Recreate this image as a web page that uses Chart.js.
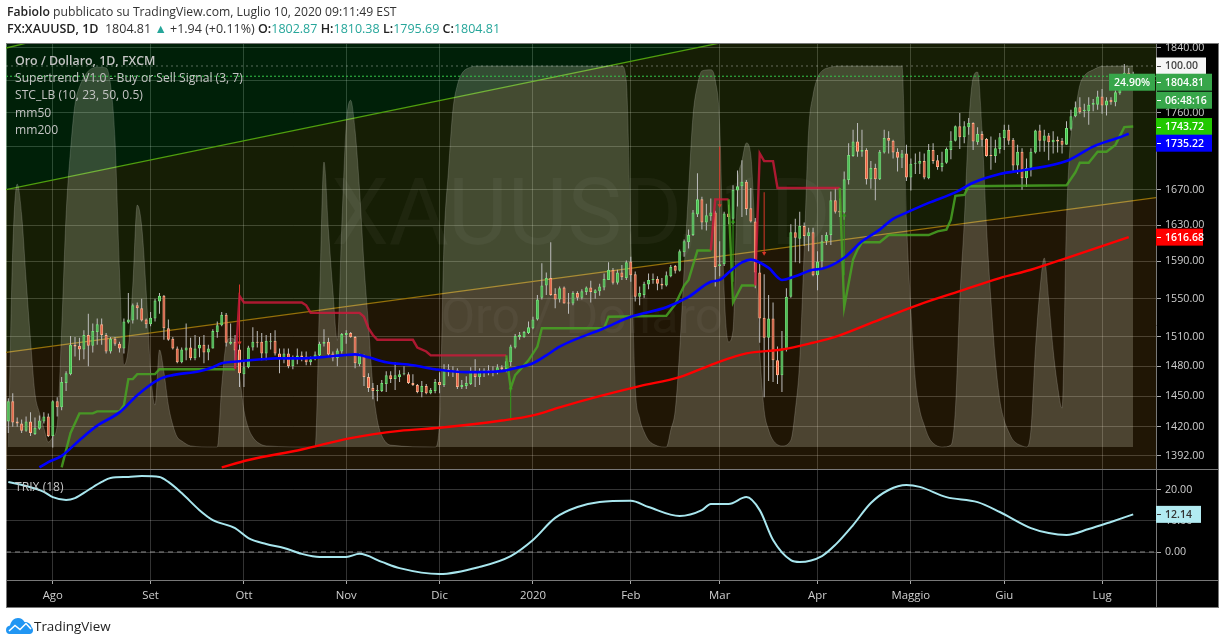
<!DOCTYPE html>
<html><head><meta charset="utf-8">
<script src="https://cdn.jsdelivr.net/npm/chart.js@4"></script>
<style>
html,body{margin:0;padding:0;background:#fff;width:1225px;height:644px;overflow:hidden;font-family:"Open Sans","Noto Sans",sans-serif}
#frame{position:absolute;left:6px;top:43px;width:1211px;height:563px;background:#000;border:1px solid #787878}
canvas{position:absolute;left:0;top:0}
.t{position:absolute;white-space:nowrap}
#h1{left:7px;top:3px;font-size:12.2px;color:#333}
#h2{left:7px;top:20px;font-size:12.5px;color:#333}
#h1 b,#h2 b{font-weight:600;color:#222}
#h2 i{font-style:normal;color:#26a69a}
.leg{left:15px;font-size:12.1px;color:#c4c4c4}
#tv{left:34px;top:617px;font-size:13.4px;color:#222}
</style></head><body>
<div id="frame"></div>
<canvas id="c" width="1225" height="644"></canvas>
<div class="t" id="h1"><b>Fabiolo</b> pubblicato su TradingView.com, Luglio 10, 2020 09:11:49 EST</div>
<div class="t" id="h2"><b>FX:XAUUSD, 1D</b>&nbsp; 1804.81 <i>▲</i> +1.94 (+0.11%) <b>O:</b><i>1802.87</i> <b>H:</b><i>1810.38</i> <b>L:</b><i>1795.69</i> <b>C:</b><i>1804.81</i></div>
<div class="t leg" style="top:52px;font-weight:600;font-size:12.4px">Oro / Dollaro, 1D, FXCM</div>
<div class="t leg" style="top:69px">Supertrend V1.0 - Buy or Sell Signal (3, 7)</div>
<div class="t leg" style="top:86px">STC_LB (10, 23, 50, 0.5)</div>
<div class="t leg" style="top:104px">mm50</div>
<div class="t leg" style="top:121px">mm200</div>
<div class="t leg" style="top:478px">TRIX (18)</div>
<svg style="position:absolute;left:6px;top:618px" width="27" height="16" viewBox="0 0 27 16"><path d="M0 12C0 9 2 8 4 7.500C5 3 8 0 12 0C15 0 17 1.500 18.500 4C22 3.500 25 6 25.500 9C26.500 10 27 11 27 12.500C27 14.500 25.500 16 23.500 16H3.500C1.500 16 0 14.500 0 12Z" fill="#2196f3"/><path d="M3 13L9 7.500L14 11.500L20 5.500L25 11" fill="none" stroke="#fff" stroke-width="1.500"/></svg>
<div class="t" id="tv">TradingView</div>
<script>
const opens=[1425,1445,1425,1423,1416,1425,1413,1418,1425,1430,1411,1445,1439,1463,1472,1502,1501,1497,1512,1501,1515,1523,1512,1495,1508,1503,1498,1525,1527,1543,1540,1528,1523,1529,1547,1553,1519,1508,1498,1484,1496,1499,1488,1498,1502,1494,1498,1515,1522,1533,1503,1505,1497,1472,1479,1499,1505,1505,1493,1505,1506,1493,1487,1493,1480,1489,
1491,1490,1484,1487,1491,1503,1505,1493,1488,1495,1512,1514,1510,1482,1491,1469,1458,1455,1455,1462,1471,1467,1469,1472,1472,1463,1461,1454,1460,1453,1455,1464,1461,1477,1474,1476,1459,1460,1462,1475,1469,1474,1476,1476,1474,1479,1477,1484,1499,1510,1510,1514,1519,1528,1551,1564,1572,1555,1549,
1562,1546,1545,1556,1551,1557,1562,1556,1558,1562,1570,1581,1567,1578,1572,1590,1576,1552,1554,1565,1570,1571,1566,1564,1574,1585,1580,1600,1611,1619,1642,1659,1633,1640,1644,1585,1587,1643,1637,1669,1674,1679,1649,1634,1578,1530,1509,1529,1486,1471,1497,1552,1622,1615,1629,1618,1622,1575,1590,1612,1619,1658,1646,1644,1681,1709,1726,1714,1716,1682,1695,1682,1713,1730,1727,1714,1707,1712,1684,1700,1700,1703,1683,1716,1704,1696,1701,1716,1727,1744,1731,1743,1748,1725,1735,1729,1710,1709,1717,1730,1740,1728,1698,1714,1683,1695,1713,1739,1727,1733,1725,1728,1727,1722,1741,1756,1767,1762,1762,1770,1770,1780,1769,1776,1773,1784,1788,1809,1802.87];
const highs=[1448,1453,1429,1427,1430,1434,1429,1431,1434,1433,1446,1449,1469,1475,1511,1510,1509,1517,1534,1524,1529,1529,1514,1510,1510,1505,1529,1556,1545,1546,1550,1529,1536,1550,1556,1554,1528,1510,1500,1499,1524,1509,1512,1510,1512,1502,1518,1526,1536,1535,1524,1512,1505,1486,1501,1520,1516,1514,1512,1514,1517,1498,1498,1498,1491,1498,
1495,1495,1490,1495,1505,1518,1509,1495,1498,1514,1517,1515,1511,1493,1492,1473,1463,1461,1466,1475,1475,1484,1476,1480,1474,1472,1462,1465,1462,1458,1467,1474,1482,1482,1480,1478,1466,1470,1479,1487,1478,1478,1481,1480,1482,1481,1488,1502,1513,1515,1516,1526,1531,1554,1588,1578,1611,1561,1563,
1563,1556,1558,1558,1560,1563,1569,1560,1566,1577,1589,1583,1581,1586,1591,1595,1579,1563,1568,1577,1577,1574,1572,1579,1586,1586,1603,1614,1625,1647,1689,1662,1654,1660,1646,1612,1645,1653,1675,1692,1704,1681,1672,1638,1589,1576,1554,1546,1500,1516,1561,1631,1637,1645,1633,1627,1627,1601,1619,1622,1668,1672,1660,1691,1724,1740,1748,1740,1718,1703,1700,1716,1740,1738,1728,1718,1716,1722,1706,1712,1714,1712,1723,1724,1710,1714,1719,1738,1745,1760,1750,1754,1749,1743,1738,1730,1732,1728,1736,1746,1746,1730,1722,1718,1706,1718,1740,1746,1740,1736,1738,1732,1730,1750,1764,1774,1779,1771,1779,1777,1787,1789,1779,1779,1788,1793,1820,1815,1810.38];
const lows=[1414,1420,1420,1414,1415,1411,1412,1417,1423,1410,1400,1430,1436,1455,1471,1490,1486,1487,1480,1494,1502,1502,1493,1493,1501,1494,1493,1524,1524,1528,1526,1519,1521,1526,1534,1507,1506,1497,1483,1483,1486,1486,1486,1489,1483,1486,1498,1509,1521,1500,1502,1478,1459,1459,1478,1496,1499,1486,1486,1497,1491,1473,1483,1478,1477,1482,
1485,1481,1481,1486,1490,1500,1490,1485,1480,1493,1503,1509,1478,1480,1460,1454,1447,1445,1454,1454,1463,1456,1464,1471,1462,1460,1453,1449,1452,1452,1453,1453,1459,1470,1469,1457,1457,1457,1461,1459,1461,1469,1471,1470,1472,1476,1474,1480,1498,1507,1509,1513,1518,1527,1549,1554,1553,1540,1546,
1545,1534,1543,1548,1549,1554,1546,1550,1553,1559,1570,1565,1565,1570,1570,1568,1547,1543,1551,1560,1566,1559,1560,1563,1573,1577,1579,1595,1604,1618,1639,1625,1624,1635,1563,1574,1585,1631,1631,1651,1639,1641,1633,1561,1504,1449,1465,1464,1462,1454,1495,1551,1589,1588,1607,1601,1574,1559,1582,1608,1608,1643,1639,1636,1676,1708,1708,1708,1676,1671,1658,1681,1712,1712,1706,1691,1695,1680,1669,1688,1688,1682,1682,1700,1693,1691,1700,1705,1726,1717,1724,1734,1716,1722,1720,1708,1693,1701,1712,1716,1722,1690,1688,1670,1673,1685,1712,1714,1714,1704,1712,1713,1712,1722,1739,1755,1759,1755,1746,1762,1764,1759,1757,1770,1768,1782,1788,1795,1795.69];
const closes=[1445,1424,1423,1416,1425,1414,1419,1426,1430,1411,1445,1439,1464,1473,1502,1500,1497,1512,1501,1516,1523,1512,1495,1508,1503,1498,1526,1528,1543,1540,1527,1523,1530,1548,1553,1519,1507,1498,1484,1497,1499,1488,1498,1502,1494,1498,1516,1522,1533,1504,1505,1496,1473,1479,1499,1505,1504,1493,1506,1506,1493,1487,1493,1480,1489,1491,
1489,1484,1487,1492,1503,1505,1492,1488,1496,1513,1514,1510,1483,1491,1469,1458,1455,1456,1463,1471,1467,1471,1472,1473,1463,1461,1454,1460,1453,1456,1464,1461,1477,1474,1476,1459,1461,1463,1475,1469,1475,1476,1474,1474,1479,1477,1485,1500,1511,1512,1515,1520,1528,1549,1564,1572,1554,1549,1561,
1545,1545,1556,1551,1558,1562,1557,1559,1563,1571,1581,1567,1578,1573,1589,1575,1552,1556,1566,1570,1571,1566,1564,1575,1584,1580,1601,1612,1619,1644,1659,1633,1641,1644,1584,1587,1643,1639,1670,1674,1679,1648,1634,1578,1529,1509,1529,1486,1471,1498,1552,1622,1616,1629,1618,1622,1575,1590,1612,1619,1658,1645,1644,1682,1710,1726,1714,1716,1682,1695,1682,1714,1730,1727,1713,1707,1712,1684,1700,1701,1703,1684,1716,1703,1696,1701,1717,1727,1744,1731,1744,1748,1726,1735,1728,1709,1709,1718,1731,1740,1727,1698,1714,1683,1695,1714,1739,1727,1733,1725,1728,1726,1722,1742,1756,1767,1761,1764,1770,1772,1780,1769,1775,1773,1785,1788,1809,1802,1804.81];

const mm50Bars=[7,9,12,16,20,25,29,34,37,43,46,48,52,57,60,66,70,75,78,81,85,91,96,103,111,114,118,121,124,134,140,148,153,158,160,162,165,167,171,174,177,181,183,188,192,196,199,202,207,213,217,223,229,238,244,250,252];
const mm50Vals=[1381,1386,1392,1407,1421,1434,1451,1467,1471,1475,1479,1483,1485,1487,1488,1488,1489,1491,1492,1489,1484,1481,1477,1474,1475,1478,1483,1491,1500,1519,1531,1541,1552,1568,1570,1578,1589,1592,1583,1570,1574,1581,1582,1594,1612,1625,1637,1644,1655,1667,1678,1688,1693,1703,1720,1731,1735.22];
const mm200Bars=[48,54,66,77,88,97,111,118,124,133,142,151,159,166,174,181,186,196,205,214,223,230,237,252];
const mm200Vals=[1381,1388,1398,1409,1416,1419,1426,1431,1439,1450,1460,1469,1483,1493,1497,1504,1510,1528,1544,1558,1572,1581,1592,1616.68];

const superBars=[12,14,16,19,20,25,26,27,28,29,33,34,46,51,52,53,66,67,68,79,80,81,82,83,91,92,94,95,112,113,114,117,119,120,134,135,148,150,152,153,155,158,159,162,163,165,168,169,170,172,173,187,188,190,191,192,196,198,207,209,211,212,213,215,216,238,240,241,243,245,247,249,251,253];
const superVals=[1381,1414,1433,1433,1435,1435,1441,1467,1467,1472,1472,1477,1477,1477,1553,1546,1546,1543,1535,1535,1531,1519,1512,1507,1507,1499,1495,1491,1491,1458,1471,1486,1500,1519,1519,1531,1532,1544,1564,1570,1602,1602,1659,1659,1546,1564,1564,1712,1703,1703,1672,1672,1541,1592,1603,1611,1611,1619,1619,1623,1625,1636,1663,1664,1674,1675,1690,1701,1701,1714,1714,1722,1743,1743.72];
const superSwitches=[51,112,158,162,168,187];
const sellBars=[52,160,170];
const sellTop=[1565,1720,1667];
const sellTip=[1504,1652,1599];
const buyBars=[113,163,188];
const buyTip=[1458,1634,1641];
const buyBottom=[1426,1568,1575];

const stcBars=[0,1,2,3,4,5,6,7,8,9,10,11,12,13,14,15,16,17,18,20,22,23,24,25,26,27,28,29,30,31,32,33,34,35,36,37,38,39,41,46,47,48,49,50,51,52,53,54,55,56,58,69,70,71,72,73,74,75,76,77,78,79,80,81,82,83,84,86,96,97,98,99,100,101,102,104,106,138,139,140,141,142,143,144,146,148,149,150,151,152,153,154,155,156,158,159,160,161,162,163,164,165,166,167,168,169,170,171,172,174,176,177,178,179,180,181,182,183,185,187,201,202,203,204,205,206,207,208,210,212,213,214,215,216,217,218,219,220,221,222,223,224,225,226,228,229,230,231,232,233,234,235,236,237,238,239,240,241,242,244,246,253];
const stcVals=[0,52,69,61,44,28,14,9,5,1.3,2.6,5.8,31,61,78,90,94.5,97,98.7,99.7,99.5,95,80.6,46.5,21.5,26,42.5,63.5,58,41,20,11,25.5,19.7,11,5.8,2.6,1.6,0.3,0,0,16,27,28.6,28,19,9.7,5,2.6,1.3,0.3,0,38.6,74.8,57,41,28,58,84.5,91,83,67.5,47.8,32,16,7,3,0.5,0,7,54,72.7,88.5,95,98,99.7,100,100,96,55.6,16,7.6,4,1.8,0.3,0,4.5,9.7,25.5,46.5,67.5,87,95,98.7,99,96.3,84.5,41,27.6,30.7,67.5,75,79.8,76.6,54,25.5,9.7,4.5,1.8,0.3,1.8,9.7,22.8,51.7,83,92.4,96.9,98.7,99.7,100,100,60,36,17.6,9.7,5.8,2.6,1,0,0.5,9.7,38.6,59,84.5,96.9,98.4,83,58,38.6,22.8,12.3,7,4,1.8,0.3,0,4.5,25.5,41,49.6,38.6,25.5,16,10.2,59.6,82,88.5,95,97.4,99,99.9,100];

const trixBars=[0,4,8,10,13,15,18,21,23,27,30,34,36,39,43,46,51,54,58,62,66,70,76,79,84,88,97,106,113,118,123,128,133,140,144,151,156,158,162,166,169,172,176,178,183,186,190,194,198,202,205,211,218,223,230,234,238,243,248,253];
const trixVals=[22.6,21.3,19.4,17.7,16.8,17.4,20,22.6,23.9,24.2,24.5,24.2,22.6,19,13.5,10.3,7.7,4.5,2.6,1.3,-0.6,-1.6,-1.6,-0.6,-3.2,-5.2,-7.1,-4.8,-1.3,3.9,11,14.5,16.1,16.5,14.5,11.6,13.5,15.5,15.5,17.7,13.5,3.9,-2.6,-3.2,-1.3,2.3,8.7,15.8,20,21.6,21,17.7,16.1,12.9,7.7,6.1,5.5,7.4,9.7,12.14];

const priceTicks=[1840,1800,1760,1720,1670,1630,1590,1550,1510,1480,1450,1420,1392];
const trixTicks=[20,10,0];
const monthBars=[10,32,53,76,97,118,140,160,182,203,224,246];
const monthNames=['Ago','Set','Ott','Nov','Dic','2020','Feb','Mar','Apr','Maggio','Giu','Lug'];
const lastPrice=1804.81, lastTrix=12.14;
const channelTop=[1670,1963], channelMid=[1494,1661], channelCorner=[1840,1846];

const xMin=-0.517,xMax=258.13;
const pts=(a,b)=>a.map((x,i)=>({x,y:b[i]}));
const ends=v=>[{x:xMin,y:v[0]},{x:xMax,y:v[1]}];
const idx=opens.map((_,i)=>i);
const up=opens.map((o,i)=>closes[i]>=o);
const line=(o)=>Object.assign({type:'line',pointRadius:0,pointHoverRadius:0,fill:false,xAxisID:'x',yAxisID:'y',borderWidth:2},o);
const UI_FONT='"Open Sans","Noto Sans",sans-serif';
const superRed='rgba(205,25,60,0.82)',superGreen='rgba(72,165,35,0.85)';

const datasets=[
 line({data:ends(channelTop),fill:'end',backgroundColor:'rgba(0,255,64,0.125)',borderColor:'#4f9f0e',borderWidth:1.3,order:100}),
 line({data:ends(channelMid),fill:'start',backgroundColor:'rgba(255,175,40,0.125)',borderColor:'#94700a',borderWidth:1.3,order:99}),
 line({data:ends(channelMid),fill:{target:0,above:'rgba(180,250,40,0.12)',below:'rgba(180,250,40,0.12)'},borderWidth:0,borderColor:'transparent',order:101}),
 line({data:[{x:xMin,y:channelCorner[0]},{x:4,y:channelCorner[1]}],borderColor:'#4f9f0e',borderWidth:1.3,order:98}),
 line({label:'STC',data:pts(stcBars,stcVals),yAxisID:'yStc',fill:{value:0},backgroundColor:'rgba(255,255,225,0.2)',borderColor:'rgba(255,255,255,0.16)',borderWidth:1,cubicInterpolationMode:'monotone',order:90}),
 line({data:ends([100,100]),yAxisID:'yStc',borderColor:'rgba(255,255,255,0.35)',borderWidth:1,borderDash:[2,3],order:89}),
 {type:'bar',label:'wick',data:idx.map(i=>({x:i,y:[lows[i],highs[i]]})),backgroundColor:'#bdbdbd',barThickness:1,grouped:false,inflateAmount:0,order:50,xAxisID:'x',yAxisID:'y'},
 {type:'bar',label:'body',data:idx.map(i=>({x:i,y:[opens[i],closes[i]]})),backgroundColor:up.map(u=>u?'#3fc04a':'#f4573a'),borderColor:up.map(u=>u?'#74e07a':'#ffb08a'),borderWidth:1,borderSkipped:false,barThickness:3,grouped:false,inflateAmount:0,order:49,xAxisID:'x',yAxisID:'y'},
 {type:'bar',label:'sell',data:sellBars.map((b,i)=>({x:b,y:[sellTip[i],sellTop[i]]})),backgroundColor:'#d8372a',barThickness:1,grouped:false,inflateAmount:0,order:45,xAxisID:'x',yAxisID:'y'},
 {type:'bar',label:'buy',data:buyBars.map((b,i)=>({x:b,y:[buyBottom[i],buyTip[i]]})),backgroundColor:'#2f9d1a',barThickness:1,grouped:false,inflateAmount:0,order:45,xAxisID:'x',yAxisID:'y'},
 line({type:'scatter',showLine:false,data:pts(sellBars,sellTip),pointStyle:'triangle',rotation:180,pointRadius:2.5,backgroundColor:'#d8372a',borderColor:'#d8372a',borderWidth:0,order:44}),
 line({type:'scatter',showLine:false,data:pts(buyBars,buyTip),pointStyle:'triangle',pointRadius:2.5,backgroundColor:'#2f9d1a',borderColor:'#2f9d1a',borderWidth:0,order:44}),
 line({label:'mm200',data:pts(mm200Bars,mm200Vals),borderColor:'#ff0000',borderWidth:2.4,cubicInterpolationMode:'monotone',order:30}),
 line({label:'Supertrend',data:pts(superBars,superVals),borderColor:superGreen,borderWidth:2.4,
   segment:{borderColor:c=>{const b=superBars[c.p0DataIndex];let k=-1;superSwitches.forEach((s,j)=>{if(b>=s)k=j});
     return k>=0&&k%2===0?superRed:superGreen;}},order:28}),
 line({label:'mm50',data:pts(mm50Bars,mm50Vals),borderColor:'#0000ff',borderWidth:2.6,cubicInterpolationMode:'monotone',order:26}),
 line({data:ends([lastPrice,lastPrice]),borderColor:'#35c54a',borderWidth:1,borderDash:[2,2],order:20}),
 line({label:'TRIX',data:pts(trixBars,trixVals),yAxisID:'yTrix',borderColor:'#a8e6ee',borderWidth:2,cubicInterpolationMode:'monotone',order:10}),
 line({data:ends([0,0]),yAxisID:'yTrix',borderColor:'#8a8a8a',borderWidth:1,borderDash:[5,4],order:11}),
];

const xFont={family:UI_FONT,size:11.4};
const yFont={family:UI_FONT,size:10.7};
const gridCol='rgba(255,255,255,0.2)';
const tags=[
 {scale:'yStc',v:100,t:'100.00',bg:'#f5f5f5',fg:'#444',w:50,dy:0},
 {scale:'y',v:lastPrice,t:'1804.81',bg:'#37a64a',fg:'#fff',w:56,dy:6},
 {scale:'y',v:lastPrice,t:'06:48:16',bg:'#37a64a',fg:'#fff',w:56,dy:24},
 {scale:'y',v:1743.72,t:'1743.72',bg:'#22c800',fg:'#fff',w:56,dy:0},
 {scale:'y',v:1735.22,t:'1735.22',bg:'#0000ff',fg:'#fff',w:56,dy:9.5},
 {scale:'y',v:1616.68,t:'1616.68',bg:'#ff0000',fg:'#fff',w:47,dy:0},
 {scale:'yTrix',v:lastTrix,t:'12.14',bg:'#b2ebf2',fg:'#333',w:45,dy:0},
];
const overlay={id:'overlay',
 beforeDatasetDraw(chart,args){
  if(chart.data.datasets[args.index].label!=='STC')return;
  const c=chart.ctx;c.save();c.fillStyle='rgba(255,255,255,0.04)';c.textAlign='center';c.textBaseline='alphabetic';
  c.font='92px Roboto';c.fillText('XAUUSD, 1D',581,244);
  c.font='50px Roboto';c.fillText('Oro / Dollaro',582,333);c.restore();
 },
 afterDraw(chart){
  const c=chart.ctx,a=chart.chartArea,s=chart.scales;c.save();
  c.strokeStyle='#787878';c.lineWidth=1;c.beginPath();
  const yy=Math.round(s.y.bottom)+0.5;
  c.moveTo(6,yy);c.lineTo(1218,yy);c.moveTo(6,a.bottom+0.5);c.lineTo(1218,a.bottom+0.5);
  c.moveTo(a.right+0.5,44);c.lineTo(a.right+0.5,607);c.stroke();
  c.font='600 10.5px '+UI_FONT;c.textBaseline='middle';c.textAlign='left';
  tags.forEach(g=>{const y=s[g.scale].getPixelForValue(g.v)+g.dy;
    c.fillStyle=g.bg;c.fillRect(a.right,y-8.5,g.w,17);
    c.fillStyle=g.fg;c.fillText(g.t,1165,y+0.5);
    c.fillRect(a.right+1,Math.round(y),4,1);});
  const y=s.y.getPixelForValue(lastPrice)+6;
  c.fillStyle='#37a64a';c.fillRect(1109,y-8.5,46,17);
  c.fillStyle='#fff';c.textAlign='center';c.fillText('24.90%',1132,y+0.5);
  c.restore();
 }};

new Chart(document.getElementById('c'),{
 type:'line',
 data:{datasets},
 plugins:[overlay],
 options:{
  responsive:false,animation:false,devicePixelRatio:1,events:[],
  layout:{padding:{left:6,top:44,right:7,bottom:37}},
  plugins:{legend:{display:false},tooltip:{enabled:false},title:{display:false}},
  scales:{
   x:{type:'linear',min:xMin,max:xMax,offset:false,bounds:'data',
    grid:{color:gridCol,offset:false,tickLength:4,tickColor:'#aaa'},border:{display:false},
    afterBuildTicks(s){s.ticks=monthBars.map(v=>({value:v}))},
    afterFit(s){s.height=27},
    ticks:{autoSkip:false,maxRotation:0,color:'#cfcfcf',font:xFont,padding:5,callback:v=>monthNames[monthBars.indexOf(v)]}},
   y:{type:'logarithmic',position:'right',stack:'panes',stackWeight:425,min:1379.5,max:1845.04,
    grid:{color:gridCol,tickLength:5,tickColor:'#aaa'},border:{display:false},
    afterBuildTicks(s){s.ticks=priceTicks.map(v=>({value:v}))},
    afterFit(s){s.width=62},
    ticks:{autoSkip:false,color:'#cfcfcf',font:yFont,padding:4,callback:v=>Number(v).toFixed(2)}},
   yTrix:{type:'linear',position:'right',stack:'panes',stackWeight:111,min:-9.03,max:26.77,bounds:'data',
    grid:{color:gridCol,tickLength:5,tickColor:'#aaa'},border:{display:false},
    afterBuildTicks(s){s.ticks=trixTicks.map(v=>({value:v}))},
    afterFit(s){s.width=62},
    ticks:{autoSkip:false,color:'#cfcfcf',font:yFont,padding:4,callback:v=>Number(v).toFixed(2)}},
   yStc:{type:'linear',display:false,position:'right',min:-34.9,max:105.77,bounds:'data'}
  }
 }
});
</script>
</body></html>
